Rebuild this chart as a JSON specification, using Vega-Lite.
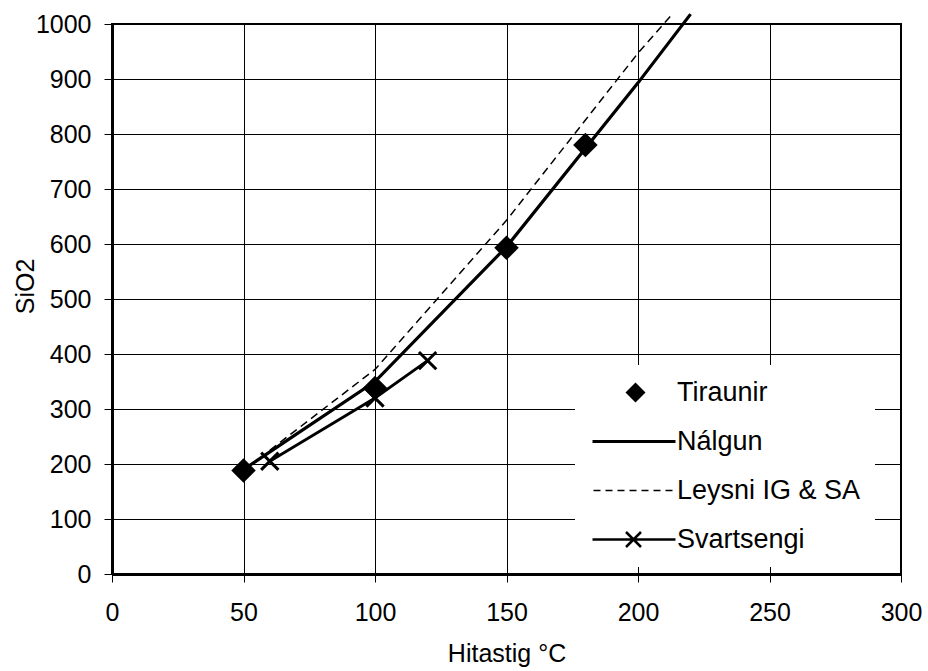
{
  "$schema": "https://vega.github.io/schema/vega-lite/v6.json",
  "width": 789,
  "height": 550,
  "autosize": {"type": "none"},
  "padding": {"left": 112, "top": 24, "right": 27, "bottom": 97},
  "background": "white",
  "datasets": {
    "pts": [
      {"series": "Tiraunir", "x": 50, "y": 188},
      {"series": "Tiraunir", "x": 100, "y": 338},
      {"series": "Tiraunir", "x": 150, "y": 593},
      {"series": "Tiraunir", "x": 180, "y": 780},
      {"series": "Nálgun", "x": 50, "y": 190},
      {"series": "Nálgun", "x": 100, "y": 350},
      {"series": "Nálgun", "x": 150, "y": 595},
      {"series": "Nálgun", "x": 200, "y": 893},
      {"series": "Nálgun", "x": 220, "y": 1018},
      {"series": "Leysni IG & SA", "x": 60, "y": 225},
      {"series": "Leysni IG & SA", "x": 100, "y": 372},
      {"series": "Leysni IG & SA", "x": 150, "y": 643},
      {"series": "Leysni IG & SA", "x": 200, "y": 947},
      {"series": "Leysni IG & SA", "x": 213, "y": 1018},
      {"series": "Svartsengi", "x": 60, "y": 205},
      {"series": "Svartsengi", "x": 100, "y": 320},
      {"series": "Svartsengi", "x": 120, "y": 388}
    ],
    "legendRows": [
      {"series": "Tiraunir"},
      {"series": "Nálgun"},
      {"series": "Leysni IG & SA"},
      {"series": "Svartsengi"}
    ]
  },
  "layer": [
    {
      "data": {"name": "pts"},
      "transform": [{"filter": "datum.series === 'Leysni IG & SA'"}],
      "mark": {"type": "line", "color": "black", "strokeWidth": 1.5, "strokeDash": [8, 5]},
      "encoding": {
        "x": {"field": "x", "type": "quantitative", "scale": {"domain": [0, 300], "nice": false},
              "axis": {"values": [0, 50, 100, 150, 200, 250, 300], "title": "Hitastig °C"}},
        "y": {"field": "y", "type": "quantitative", "scale": {"domain": [0, 1000], "nice": false},
              "axis": {"values": [0, 100, 200, 300, 400, 500, 600, 700, 800, 900, 1000], "format": "d", "title": "SiO2", "titleX": -74, "titleY": 262}}
      }
    },
    {
      "data": {"name": "pts"},
      "transform": [{"filter": "datum.series === 'Nálgun'"}],
      "mark": {"type": "line", "color": "black", "strokeWidth": 3.2},
      "encoding": {
        "x": {"field": "x", "type": "quantitative"},
        "y": {"field": "y", "type": "quantitative"}
      }
    },
    {
      "data": {"name": "pts"},
      "transform": [{"filter": "datum.series === 'Svartsengi'"}],
      "mark": {"type": "line", "color": "black", "strokeWidth": 2.8},
      "encoding": {
        "x": {"field": "x", "type": "quantitative"},
        "y": {"field": "y", "type": "quantitative"}
      }
    },
    {
      "data": {"name": "pts"},
      "transform": [{"filter": "datum.series === 'Svartsengi'"}],
      "mark": {"type": "point", "shape": "M-1,-1L1,1M-1,1L1,-1", "size": 300, "filled": false, "color": "black", "strokeWidth": 3, "opacity": 1},
      "encoding": {
        "x": {"field": "x", "type": "quantitative"},
        "y": {"field": "y", "type": "quantitative"}
      }
    },
    {
      "data": {"name": "pts"},
      "transform": [{"filter": "datum.series === 'Tiraunir'"}],
      "mark": {"type": "point", "shape": "diamond", "size": 600, "filled": true, "color": "black", "opacity": 1},
      "encoding": {
        "x": {"field": "x", "type": "quantitative"},
        "y": {"field": "y", "type": "quantitative"}
      }
    },
    {
      "data": {"name": "legendRows"},
      "mark": {"type": "point", "opacity": 0, "filled": true, "color": "black"},
      "encoding": {
        "shape": {
          "field": "series",
          "type": "nominal",
          "scale": {
            "domain": ["Tiraunir", "Nálgun", "Leysni IG & SA", "Svartsengi"],
            "range": [
              "M3.3,-1L4.3,0L3.3,1L2.3,0Z",
              "M-1,-0.15H7.3V0.15H-1Z",
              "M-0.9,-0.075H-0.2V0.075H-0.9ZM0.3,-0.075H1V0.075H0.3ZM1.5,-0.075H2.2V0.075H1.5ZM2.7,-0.075H3.4V0.075H2.7ZM3.9,-0.075H4.6V0.075H3.9ZM5.1,-0.075H5.8V0.075H5.1ZM6.3,-0.075H7V0.075H6.3Z",
              "M-1,-0.13H7.3V0.13H-1ZM2.438,-0.838L3.938,0.662L3.762,0.838L2.262,-0.662ZM2.438,0.838L2.262,0.662L3.762,-0.838L3.938,-0.662Z"
            ]
          },
          "legend": {
            "title": null,
            "orient": "none",
            "legendX": 463,
            "legendY": 341,
            "fillColor": "white",
            "padding": 14,
            "rowPadding": 21,
            "symbolSize": 400,
            "symbolOpacity": 1,
            "symbolFillColor": "black",
            "symbolStrokeWidth": 0,
            "labelOffset": 61,
            "labelFontSize": 27,
            "labelColor": "black",
            "labelLimit": 400
          }
        }
      }
    }
  ],
  "config": {
    "font": "Liberation Sans",
    "view": {"stroke": "black", "strokeWidth": 2},
    "axis": {
      "grid": true,
      "gridColor": "black",
      "gridWidth": 1,
      "gridOpacity": 1,
      "domainColor": "black",
      "domainWidth": 3,
      "tickColor": "black",
      "tickSize": 8,
      "tickWidth": 1,
      "labelFontSize": 25,
      "labelColor": "black",
      "titleFontSize": 25,
      "titleFontWeight": "normal",
      "titleColor": "black",
      "labelFlush": false,
      "labelOverlap": false
    },
    "axisX": {"labelPadding": 18, "titlePadding": 16},
    "axisY": {"labelPadding": 13}
  }
}
